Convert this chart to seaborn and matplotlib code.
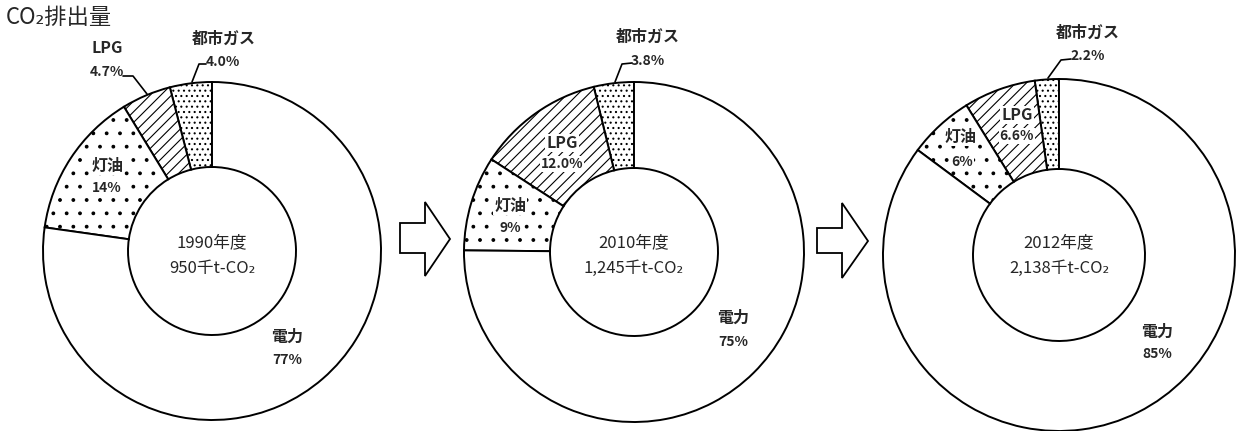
# CO2 emissions by energy source - three donut charts
import numpy as np
import matplotlib.pyplot as plt
import matplotlib.patches as mpatches
import seaborn as sns

sns.set_theme(style='white')
plt.rcParams['font.family'] = ['Noto Sans CJK JP', 'DejaVu Sans']
plt.rcParams['hatch.color'] = 'black'

# ---------------- data ----------------
categories = ['都市ガス', 'LPG', '灯油', '電力']
years = ['1990年度', '2010年度', '2012年度']
totals = ['950千t-CO₂', '1,245千t-CO₂', '2,138千t-CO₂']

share_1990 = [4.0, 4.7, 14, 77]
share_2010 = [3.8, 12.0, 9, 75]
share_2012 = [2.2, 6.6, 6, 85]

label_1990 = ['4.0%', '4.7%', '14%', '77%']
label_2010 = ['3.8%', '12.0%', '9%', '75%']
label_2012 = ['2.2%', '6.6%', '6%', '85%']

shares = [share_1990, share_2010, share_2012]
share_labels = [label_1990, label_2010, label_2012]

# ---------------- layout (pixel coords, y from top) ----------------
W, H = 1242, 431
DPI = 160           # higher dpi -> hatch spacing closer to the scanned original
S = 100 / DPI       # sizes below are given as points at 100 dpi
plt.rcParams['hatch.linewidth'] = 0.8 * S

hatches = ['.....', '/////', '..', '']
centers = [(212, 251), (634, 252), (1059, 255)]
outer_r = [169, 170, 176]
inner_r = [84, 84, 86]

# (name xy, value xy) per category, per donut
label_pos = [
    [((224, 39), (223, 62)), ((107, 48), (107, 72)),
     ((107, 166), (107, 188)), ((287, 337), (287, 360))],
    [((648, 37), (648, 61)), ((562, 143), (562, 164)),
     ((510, 206), (510, 228)), ((733, 318), (733, 342))],
    [((1088, 33), (1088, 56)), ((1017, 115), (1017, 136)),
     ((960, 137), (962, 162)), ((1157, 332), (1157, 354))],
]
inside = [[False, False, True, False],
          [False, True, True, False],
          [False, True, True, False]]

leaders = [
    [(123, 76), (133, 76), (147, 94)],
    [(206, 64), (199, 64), (192, 82)],
    [(632, 63), (622, 64), (615, 82)],
    [(1071, 59), (1061, 60), (1048, 78)],
]

arrows = [
    [(400, 223), (425, 223), (425, 202), (450, 239), (425, 276), (425, 253), (400, 253)],
    [(817, 228), (842, 228), (842, 203), (868, 241), (842, 278), (842, 253), (817, 253)],
]

# ---------------- figure ----------------
fig = plt.figure(figsize=(W / DPI, H / DPI), dpi=DPI)
ax = fig.add_axes([0, 0, 1, 1])

for i in range(3):
    cx, cy = centers[i]
    r = outer_r[i]
    wedges, _ = ax.pie(shares[i], center=(cx, H - cy), radius=r,
                       startangle=90, counterclock=True,
                       wedgeprops=dict(width=r - inner_r[i], facecolor='white',
                                       edgecolor='black', linewidth=1.4 * S))
    for w, h in zip(wedges, hatches):
        w.set_hatch(h)

    # category labels
    for j, cat in enumerate(categories):
        (nx, ny), (vx, vy) = label_pos[i][j]
        box = dict(facecolor='white', edgecolor='none', pad=0.4) if inside[i][j] else None
        ax.text(nx, H - ny, cat, ha='center', va='center', fontsize=11.5 * S,
                fontweight='bold', bbox=box)
        ax.text(vx, H - vy, share_labels[i][j], ha='center', va='center',
                fontsize=10 * S, fontweight='bold', bbox=box)

    # centre text
    ax.text(cx, H - 243, years[i], ha='center', va='center', fontsize=12 * S)
    ax.text(cx, H - 268, totals[i], ha='center', va='center', fontsize=12 * S)

for pts in leaders:
    xs = [p[0] for p in pts]
    ys = [H - p[1] for p in pts]
    ax.plot(xs, ys, color='black', lw=1.2 * S)

for pts in arrows:
    poly = mpatches.Polygon([(x, H - y) for x, y in pts], closed=True,
                            facecolor='white', edgecolor='black', lw=1.3 * S)
    ax.add_patch(poly)

ax.text(6, H - 17, 'CO₂排出量', ha='left', va='center', fontsize=16 * S)

ax.set_xlim(0, W)
ax.set_ylim(0, H)
ax.set_aspect('equal')
ax.axis('off')

fig.savefig('out.png', dpi=DPI)
